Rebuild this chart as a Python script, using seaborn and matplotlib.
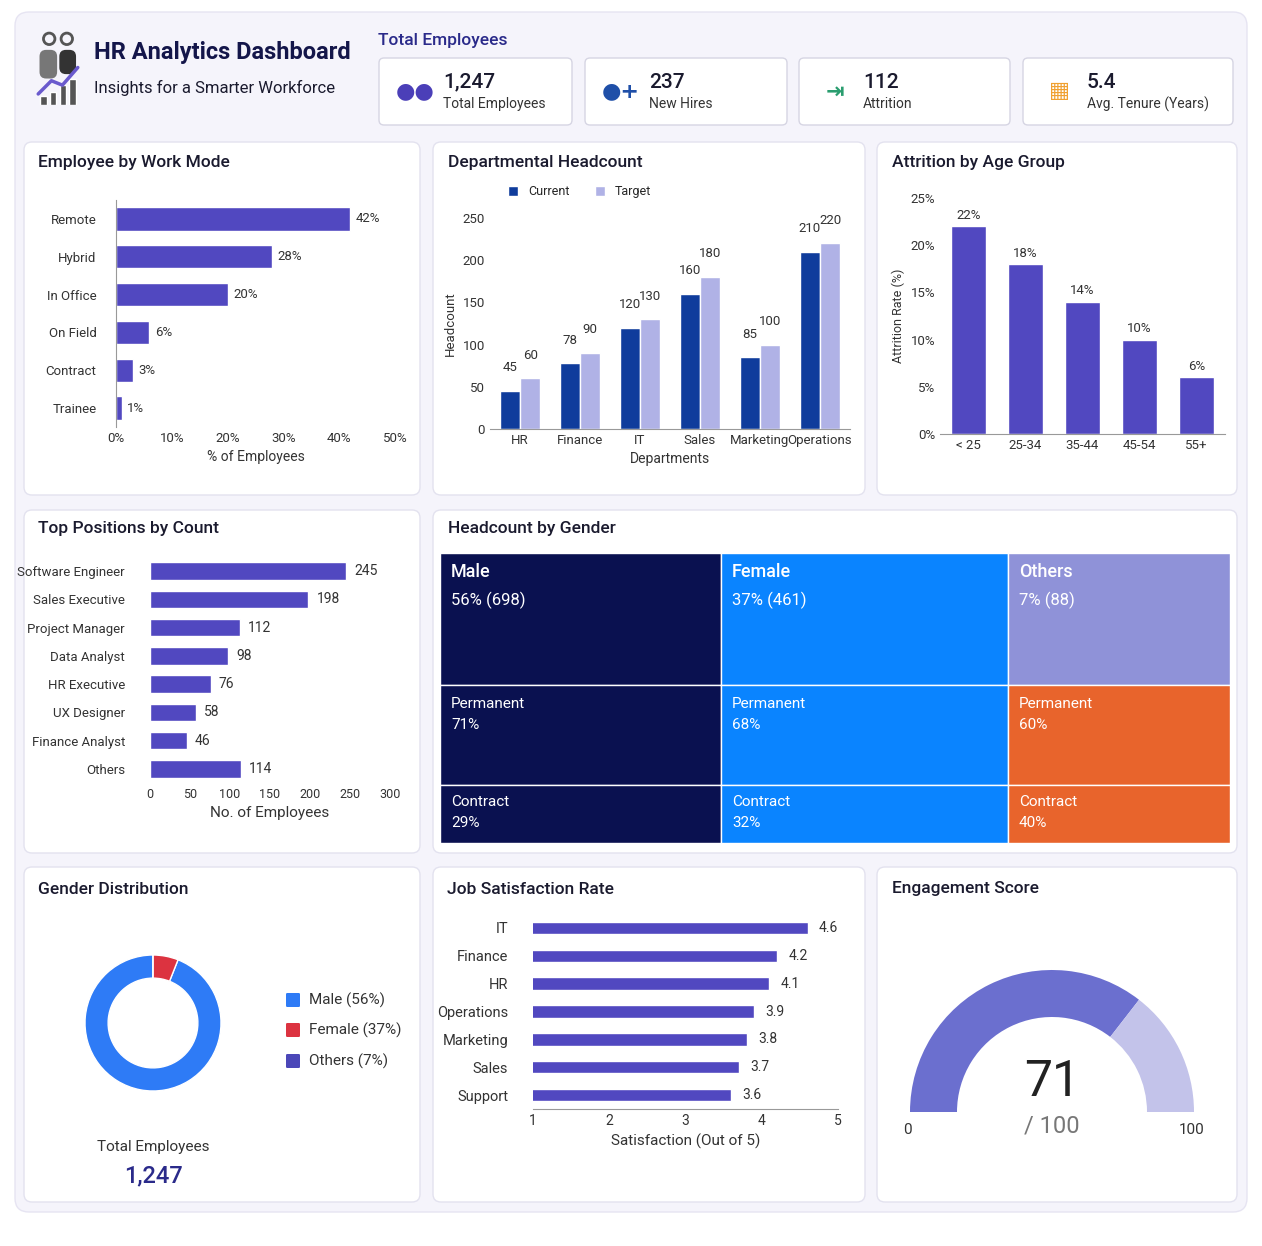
import numpy as np
import pandas as pd
import matplotlib.pyplot as plt
import seaborn as sns
from matplotlib.patches import FancyBboxPatch, Wedge, Rectangle

sns.set_theme(style="white")
plt.rcParams['font.family'] = ['Roboto', 'DejaVu Sans']

# ---- data ----
kpi_values = ["1,247", "237", "112", "5.4"]
kpi_labels = ["Total Employees", "New Hires", "Attrition", "Avg. Tenure (Years)"]

work_modes = ["Remote", "Hybrid", "In Office", "On Field", "Contract", "Trainee"]
work_pct = [42, 28, 20, 6, 3, 1]

departments = ["HR", "Finance", "IT", "Sales", "Marketing", "Operations"]
dept_current = [45, 78, 120, 160, 85, 210]
dept_target = [60, 90, 130, 180, 100, 220]

age_groups = ["< 25", "25-34", "35-44", "45-54", "55+"]
age_attrition = [22, 18, 14, 10, 6]

positions = ["Software Engineer", "Sales Executive", "Project Manager", "Data Analyst",
             "HR Executive", "UX Designer", "Finance Analyst", "Others"]
position_counts = [245, 198, 112, 98, 76, 58, 46, 114]

genders = ["Male", "Female", "Others"]
gender_counts = [698, 461, 88]
gender_pct = [56, 37, 7]
permanent_pct = [71, 68, 60]

# donut as drawn in the reference (blue ring with a small red slice)
donut_labels = ["Male (56%)", "Female (37%)", "Others (7%)"]
donut_values = [94, 6, 0]

sat_depts = ["IT", "Finance", "HR", "Operations", "Marketing", "Sales", "Support"]
sat_scores = [4.6, 4.2, 4.1, 3.9, 3.8, 3.7, 3.6]

engagement = 71

# ---- layout helpers ----
W, H = 1262, 1246
fig = plt.figure(figsize=(W / 100, H / 100), dpi=100)
fig.patch.set_facecolor("white")

def rect(x0, y0, x1, y1):
    return [x0 / W, 1 - y1 / H, (x1 - x0) / W, (y1 - y0) / H]

def card(x0, y0, x1, y1, fc="white", ec="#e3e2ef", r=8, z=-2):
    fig.patches.append(FancyBboxPatch((x0 / W, 1 - y1 / H), (x1 - x0) / W, (y1 - y0) / H,
                                      boxstyle=f"round,pad=0,rounding_size={r / W}",
                                      transform=fig.transFigure, fc=fc, ec=ec, lw=1, zorder=z))

def ftext(x, y, s, **kw):
    fig.text(x / W, 1 - y / H, s, **kw)

INDIGO = "#5148c0"
DARK = "#1a1a2e"
TXT = "#333333"

card(15, 12, 1247, 1212, fc="#f5f4fb", ec="#e6e4f2", r=14, z=-3)
panels = [(24, 142, 420, 495), (433, 142, 865, 495), (877, 142, 1237, 495),
          (24, 510, 420, 853), (433, 510, 1237, 853),
          (24, 867, 420, 1202), (433, 867, 865, 1202), (877, 867, 1237, 1202)]
for p in panels:
    card(*p)

titles = [(38, 163, "Employee by Work Mode"), (448, 163, "Departmental Headcount"),
          (892, 163, "Attrition by Age Group"), (38, 529, "Top Positions by Count"),
          (448, 529, "Headcount by Gender"), (38, 889, "Gender Distribution"),
          (447, 889, "Job Satisfaction Rate"), (892, 889, "Engagement Score")]
for x, y, s in titles:
    ftext(x, y, s, fontsize=12.5, fontweight="medium", color=DARK, va="center")

# ---- header ----
ftext(94, 53, "HR Analytics Dashboard", fontsize=17, fontweight="bold", color="#14164a", va="center")
ftext(94, 88, "Insights for a Smarter Workforce", fontsize=12, color=DARK, va="center")
ftext(378, 41, "Total Employees", fontsize=12.5, fontweight="medium", color="#2a2a8a", va="center")
# logo: simple people + trend
ax_logo = fig.add_axes(rect(36, 30, 80, 105))
ax_logo.set_xlim(0, 10); ax_logo.set_ylim(0, 17); ax_logo.axis("off")
ax_logo.add_patch(plt.Circle((3, 15), 1.3, fc="none", ec="#555", lw=2))
ax_logo.add_patch(plt.Circle((7, 15), 1.3, fc="none", ec="#555", lw=2))
ax_logo.add_patch(FancyBboxPatch((0.8, 6), 4, 6.5, boxstyle="round,pad=0,rounding_size=1.5", fc="#777", ec="none"))
ax_logo.add_patch(FancyBboxPatch((5.3, 7), 3.8, 5.5, boxstyle="round,pad=0,rounding_size=1.5", fc="#333", ec="none"))
for i, h in enumerate([2, 3, 4.5, 6]):
    ax_logo.add_patch(Rectangle((1 + i * 2.2, 0), 1.4, h, fc="#555"))
ax_logo.plot([0.5, 3.5, 6, 9.5], [2.5, 5.5, 4.5, 8.5], color="#6a5acd", lw=2.5)

kpi_boxes = [(379, 58, 572, 125), (585, 58, 787, 125), (799, 58, 1010, 125), (1023, 58, 1233, 125)]
kpi_colors = ["#4b3fb8", "#1f4fa8", "#2a9d6f", "#f0a030"]
kpi_icons = ["\u25cf\u25cf", "\u25cf+", "\u21e5", "\u25a6"]
for (x0, y0, x1, y1), v, lab, c, ic in zip(kpi_boxes, kpi_values, kpi_labels, kpi_colors, kpi_icons):
    card(x0, y0, x1, y1, fc="white", ec="#d6d5e3", r=5, z=-1)
    ftext(x0 + 36, (y0 + y1) / 2, ic, fontsize=16, color=c, ha="center", va="center",
          family=["DejaVu Sans"], fontweight="bold")
    ftext(x0 + 64, y0 + 24, v, fontsize=15, fontweight="medium", color=DARK, va="center")
    ftext(x0 + 64, y0 + 46, lab, fontsize=10, color=TXT, va="center")

def clean(ax, left=True, bottom=True):
    for s in ax.spines.values():
        s.set_visible(False)
    ax.spines["left"].set_visible(left)
    ax.spines["bottom"].set_visible(bottom)
    for s in ("left", "bottom"):
        ax.spines[s].set_color("#999")
        ax.spines[s].set_linewidth(0.8)
    ax.tick_params(labelsize=9.5, colors=TXT, length=0)
    ax.set_facecolor("none")

# ---- work mode ----
ax = fig.add_axes(rect(116, 200, 395, 427))
df = pd.DataFrame({"mode": work_modes, "pct": work_pct})
sns.barplot(data=df, y="mode", x="pct", color=INDIGO, width=0.62, ax=ax, saturation=1)
for i, v in enumerate(work_pct):
    ax.text(v + 1, i, f"{v}%", va="center", fontsize=9.5, color=TXT)
ax.set_xlim(0, 50); ax.set_xticks(range(0, 51, 10))
ax.set_xticklabels([f"{t}%" for t in range(0, 51, 10)])
ax.set_ylabel(""); ax.set_xlabel("% of Employees", fontsize=10, color=TXT)
clean(ax, left=True, bottom=False)
ax.tick_params(axis="y", pad=14)

# ---- departmental headcount ----
ax = fig.add_axes(rect(490, 218, 850, 429))
dd = pd.DataFrame({"dept": departments * 2, "count": dept_current + dept_target,
                   "kind": ["Current"] * 6 + ["Target"] * 6})
sns.barplot(data=dd, x="dept", y="count", hue="kind", palette=["#0f3c9c", "#b0b2e6"],
            width=0.68, ax=ax, saturation=1)
for cont in ax.containers:
    ax.bar_label(cont, padding=12, fontsize=9.5, color=TXT)
ax.set_ylim(0, 250); ax.set_yticks(range(0, 251, 50))
ax.set_xlabel("Departments", fontsize=10, color=TXT)
ax.set_ylabel("Headcount", fontsize=9.5, color=TXT)
ax.legend(loc="lower left", bbox_to_anchor=(0.02, 1.04), ncol=2, frameon=False, fontsize=9,
          handlelength=0.8, handleheight=0.8, columnspacing=2)
clean(ax, left=False, bottom=True)

# ---- attrition by age ----
ax = fig.add_axes(rect(940, 198, 1225, 434))
da = pd.DataFrame({"age": age_groups, "rate": age_attrition})
sns.barplot(data=da, x="age", y="rate", color=INDIGO, width=0.62, ax=ax, saturation=1)
for i, v in enumerate(age_attrition):
    ax.text(i, v + 0.8, f"{v}%", ha="center", fontsize=9.5, color=TXT)
ax.set_ylim(0, 25); ax.set_yticks(range(0, 26, 5))
ax.set_yticklabels([f"{t}%" for t in range(0, 26, 5)])
ax.set_xlabel(""); ax.set_ylabel("Attrition Rate (%)", fontsize=9, color=TXT)
clean(ax, left=False, bottom=True)

# ---- top positions ----
ax = fig.add_axes(rect(150, 557, 390, 783))
dp = pd.DataFrame({"pos": positions, "n": position_counts})
sns.barplot(data=dp, y="pos", x="n", color=INDIGO, width=0.62, ax=ax, saturation=1)
for i, v in enumerate(position_counts):
    ax.text(v + 10, i, str(v), va="center", fontsize=10, color=TXT)
ax.set_xlim(0, 300); ax.set_xticks(range(0, 301, 50))
ax.set_ylabel(""); ax.set_xlabel("No. of Employees", fontsize=11, color=TXT)
clean(ax, left=False, bottom=False)
ax.tick_params(axis="y", labelsize=9.5, pad=18)
ax.tick_params(axis="x", labelsize=9)

# ---- treemap ----
ax = fig.add_axes(rect(440, 553, 1230, 843))
ax.set_xlim(440, 1230); ax.set_ylim(843, 553); ax.axis("off")
col_edges = [440, 721, 1008, 1230]
row_edges = [553, 685, 785, 843]
head_c = ["#0a1150", "#0a84ff", "#8f92d8"]
sub_c = ["#0a1150", "#0a84ff", "#e8642c"]
for i in range(3):
    x0, x1 = col_edges[i], col_edges[i + 1]
    for r, c in zip(range(3), [head_c[i], sub_c[i], sub_c[i]]):
        ax.add_patch(Rectangle((x0, row_edges[r]), x1 - x0, row_edges[r + 1] - row_edges[r],
                               fc=c, ec="white", lw=1))
    ax.text(x0 + 11, 572, genders[i], color="white", fontsize=13, fontweight="medium", va="center")
    ax.text(x0 + 11, 600, f"{gender_pct[i]}% ({gender_counts[i]})", color="white", fontsize=12, va="center")
    ax.text(x0 + 11, 704, "Permanent", color="white", fontsize=11, va="center")
    ax.text(x0 + 11, 725, f"{permanent_pct[i]}%", color="white", fontsize=11, va="center")
    ax.text(x0 + 11, 802, "Contract", color="white", fontsize=11, va="center")
    ax.text(x0 + 11, 823, f"{100 - permanent_pct[i]}%", color="white", fontsize=11, va="center")

# ---- donut ----
ax = fig.add_axes(rect(68, 938, 238, 1108))
ax.pie(donut_values, colors=["#2e7bf6", "#dc3340", "#4b47b8"], startangle=90, counterclock=True,
       wedgeprops=dict(width=0.34, edgecolor="white", linewidth=1), radius=1)
ax.set_aspect("equal")
for lab, c, y in zip(donut_labels, ["#2e7bf6", "#dc3340", "#4b47b8"], [1000, 1030, 1061]):
    fig.patches.append(FancyBboxPatch((286 / W, 1 - (y + 7) / H), 14 / W, 14 / H,
                                      boxstyle="round,pad=0,rounding_size=0.001",
                                      transform=fig.transFigure, fc=c, ec="none"))
    ftext(309, y, lab, fontsize=11, color=TXT, va="center")
ftext(153, 1147, "Total Employees", fontsize=11, color=TXT, ha="center", va="center")
ftext(153, 1176, kpi_values[0], fontsize=17, fontweight="medium", color="#2a2a8a", ha="center", va="center")

# ---- job satisfaction ----
ax = fig.add_axes(rect(533, 914, 838, 1109))
ds = pd.DataFrame({"dept": sat_depts, "score": sat_scores})
sns.barplot(data=ds, y="dept", x="score", color=INDIGO, width=0.45, ax=ax, saturation=1)
ax.set_xlim(1, 5); ax.set_xticks(range(1, 6))
for i, v in enumerate(sat_scores):
    ax.text(v + 0.15, i, f"{v}", va="center", fontsize=10, color=TXT)
ax.set_ylabel(""); ax.set_xlabel("Satisfaction (Out of 5)", fontsize=11, color=TXT)
clean(ax, left=False, bottom=True)
ax.tick_params(axis="y", labelsize=10.5, pad=18)
ax.tick_params(axis="x", labelsize=10)

# ---- gauge ----
ax = fig.add_axes(rect(900, 960, 1204, 1140))
ax.set_xlim(-152, 152); ax.set_ylim(-28, 152); ax.axis("off"); ax.set_aspect("equal")
split = 180 - 180 * engagement / 100
ax.add_patch(Wedge((0, 0), 142, split, 180, width=47, fc="#6b6fcf", ec="none"))
ax.add_patch(Wedge((0, 0), 142, 0, split, width=47, fc="#c3c3ea", ec="none"))
ax.text(0, 30, str(engagement), fontsize=36, ha="center", va="center", color="#222")
ax.text(0, -14, "/ 100", fontsize=17, ha="center", va="center", color="#777")
ax.text(-145, -18, "0", fontsize=11, ha="center", va="center", color=TXT)
ax.text(140, -18, "100", fontsize=11, ha="center", va="center", color=TXT)

fig.savefig("out.png", dpi=100)
